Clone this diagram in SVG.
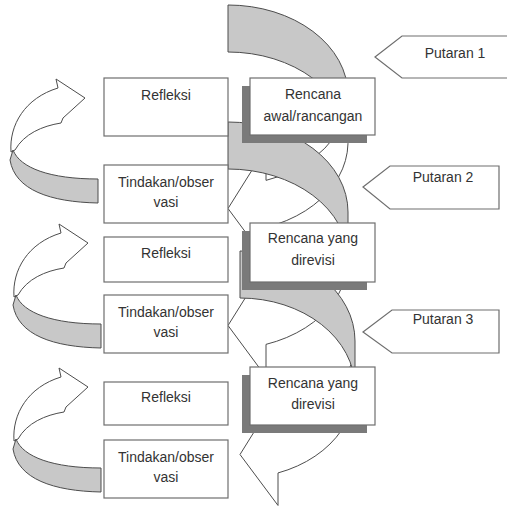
<svg xmlns="http://www.w3.org/2000/svg" width="507" height="506" viewBox="0 0 507 506">
<style>
.bg{fill:#ffffff}
.front{fill:#ffffff;stroke:#4d4d4d;stroke-width:1}
.back{fill:#c8c8c8;stroke:#4d4d4d;stroke-width:1}
.box{fill:#ffffff;stroke:#6e6e6e;stroke-width:1.2}
.shadow{fill:#7a7a7a}
.tag{fill:#ffffff;stroke:#6e6e6e;stroke-width:1.2}
text{font-family:"Liberation Sans",Arial,sans-serif;font-size:14px;fill:#333333;text-anchor:middle}
</style>
<defs>
<g id="smallArrow">
<path class="front" d="M58,88 L56,79 L85,98 L63,118 L61,123 C42,126 24,134 15,150 L11,152 C9,125 25,98 58,88 Z"/>
<path class="back" d="M13,150 C20,168 50,179 98,179 L98,203 C50,202 15,190 10,160 Z"/>
</g>
</defs>
<rect class="bg" x="0" y="0" width="507" height="506"/>

<g id="connectors">
<g id="loop-arrow-1"><use href="#smallArrow"/></g>
<g id="loop-arrow-2"><use href="#smallArrow" transform="translate(3,145)"/></g>
<g id="loop-arrow-3"><use href="#smallArrow" transform="translate(3,289)"/></g>

<g id="cycle-arrow-1">
<path class="front" d="M228,208.5 L266,147.87 L266,180.37 A120,90 0 0 0 343.84,118.5 A120,90 0 0 1 266,227.37 L266,259.87 Z"/>
<path class="back" d="M348,142 A120,90 0 0 0 228,52 L228,5 A120,90 0 0 1 348,95 Z"/>
</g>
<g id="cycle-arrow-2">
<path class="front" d="M228,325.5 L266,264.87 L266,297.37 A120,90 0 0 0 343.84,235.5 A120,90 0 0 1 266,344.37 L266,376.87 Z"/>
<path class="back" d="M348,259 A120,90 0 0 0 228,169 L228,122 A120,90 0 0 1 348,212 Z"/>
</g>
<g id="cycle-arrow-3">
<path class="front" d="M240,454.5 L278,393.44 L278,425.94 A115,90 0 0 0 351.01,364.5 A115,90 0 0 1 278,472.94 L278,505.44 Z"/>
<path class="back" d="M355,388 A115,90 0 0 0 240,298 L240,251 A115,90 0 0 1 355,341 Z"/>
</g>
</g>

<g id="refleksi-1"><rect class="box" x="104" y="78" width="124" height="58"/><text x="166" y="100">Refleksi</text></g>
<g id="tindakan-1"><rect class="box" x="104" y="165" width="124" height="58"/><text x="166" y="187">Tindakan/obser</text><text x="166" y="207">vasi</text></g>
<g id="refleksi-2"><rect class="box" x="104" y="237" width="124" height="45"/><text x="166" y="258">Refleksi</text></g>
<g id="tindakan-2"><rect class="box" x="104" y="295" width="124" height="58"/><text x="166" y="317">Tindakan/obser</text><text x="166" y="337">vasi</text></g>
<g id="refleksi-3"><rect class="box" x="104" y="382" width="124" height="43"/><text x="166" y="402">Refleksi</text></g>
<g id="tindakan-3"><rect class="box" x="104" y="440" width="124" height="58"/><text x="166" y="462">Tindakan/obser</text><text x="166" y="482">vasi</text></g>

<g id="rencana-1"><rect class="shadow" x="242" y="86" width="125" height="57"/><rect class="box" x="250" y="78" width="125" height="57"/><text x="313" y="99">Rencana</text><text x="313" y="121">awal/rancangan</text></g>
<g id="rencana-2"><rect class="shadow" x="242" y="231" width="125" height="59"/><rect class="box" x="250" y="223" width="125" height="59"/><text x="313" y="243">Rencana yang</text><text x="313" y="265">direvisi</text></g>
<g id="rencana-3"><rect class="shadow" x="242" y="375" width="125" height="58"/><rect class="box" x="250" y="367" width="125" height="58"/><text x="313" y="388">Rencana yang</text><text x="313" y="409">direvisi</text></g>

<g id="putaran-1"><path class="tag" d="M375,57 L402,36 L510,36 L510,78 L402,78 Z"/><text x="455" y="58">Putaran 1</text></g>
<g id="putaran-2"><path class="tag" d="M363,187 L390,166 L499,166 L499,209 L390,209 Z"/><text x="443" y="182">Putaran 2</text></g>
<g id="putaran-3"><path class="tag" d="M363,332 L392,310 L499,310 L499,353 L392,353 Z"/><text x="443" y="324">Putaran 3</text></g>
</svg>
